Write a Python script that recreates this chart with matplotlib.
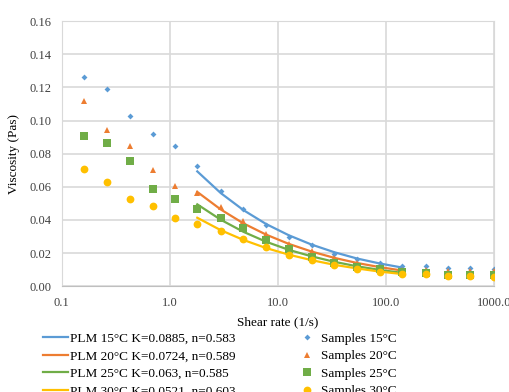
import matplotlib
matplotlib.use("Agg")
import matplotlib.pyplot as plt
from matplotlib.ticker import FixedLocator, FuncFormatter

plt.rcParams["font.family"] = ["Liberation Serif", "DejaVu Serif"]

# measured shear rates (1/s)
shear = [0.161, 0.261, 0.429, 0.696, 1.12, 1.80, 2.97, 4.82, 7.82, 12.7,
         20.6, 33.4, 54.2, 88.0, 143.0, 234.0, 376.0, 605.0, 1000.0]

# measured viscosities (Pas)
visc_15 = [0.126, 0.119, 0.103, 0.092, 0.0845, 0.0725, 0.0574, 0.0467, 0.0370, 0.0298,
           0.0248, 0.0197, 0.0165, 0.0137, 0.0123, 0.0119, 0.0109, 0.0109, 0.0105]
visc_20 = [0.112, 0.0944, 0.0845, 0.0704, 0.0606, 0.0564, 0.0479, 0.0392, 0.0312, 0.0256,
           0.0210, 0.0172, 0.0141, 0.0116, 0.0100, 0.0095, 0.0090, 0.0090, 0.0089]
visc_25 = [0.0908, 0.0865, 0.0753, 0.0588, 0.0527, 0.0467, 0.0409, 0.0350, 0.0278, 0.0225,
           0.0177, 0.0137, 0.0117, 0.0101, 0.0087, 0.0080, 0.0066, 0.0066, 0.0070]
visc_30 = [0.0710, 0.0626, 0.0527, 0.0483, 0.0409, 0.0376, 0.0334, 0.0284, 0.0237, 0.0189,
           0.0157, 0.0127, 0.0101, 0.0085, 0.0072, 0.0072, 0.0060, 0.0062, 0.0056]

# power-law model curves
fit_shear = [1.80, 2.97, 4.82, 7.82, 12.7, 20.6, 33.4, 54.2, 88.0, 143.0]
fit_15 = [0.0693, 0.0562, 0.0459, 0.0375, 0.0307, 0.0251, 0.0205, 0.0167, 0.0137, 0.0112]
fit_20 = [0.0569, 0.0463, 0.0379, 0.0311, 0.0255, 0.0209, 0.0171, 0.0140, 0.0115, 0.0094]
fit_25 = [0.0494, 0.0401, 0.0328, 0.0268, 0.0219, 0.0180, 0.0147, 0.0120, 0.0098, 0.0080]
fit_30 = [0.0413, 0.0338, 0.0279, 0.0230, 0.0190, 0.0157, 0.0129, 0.0107, 0.0088, 0.0073]

fit_labels = ["PLM 15°C K=0.0885, n=0.583", "PLM 20°C K=0.0724, n=0.589",
              "PLM 25°C K=0.063, n=0.585", "PLM 30°C K=0.0521, n=0.603"]
sample_labels = ["Samples 15°C", "Samples 20°C", "Samples 25°C", "Samples 30°C"]

colors = ["#5B9BD5", "#ED7D31", "#70AD47", "#FFC000"]
markers = ["D", "^", "s", "o"]
msizes = [3.0, 4.5, 5.3, 5.6]

fig = plt.figure(figsize=(5.10, 3.92), dpi=100)
ax = fig.add_axes([0.121, 0.270, 0.847, 0.676])

fits = [fit_15, fit_20, fit_25, fit_30]
samples = [visc_15, visc_20, visc_25, visc_30]

line_handles = []
for fit, c, lab in zip(fits, colors, fit_labels):
    h, = ax.plot(fit_shear, fit, color=c, lw=1.6, label=lab, zorder=3)
    line_handles.append(h)

pt_handles = []
for vals, c, m, ms, lab in zip(samples, colors, markers, msizes, sample_labels):
    h, = ax.plot(shear, vals, ls="none", marker=m, ms=ms, color=c,
                 markeredgewidth=0, label=lab, zorder=4)
    pt_handles.append(h)

ax.set_xscale("log")
ax.set_xlim(0.1, 1000)
ax.set_ylim(0, 0.16)
ax.xaxis.set_major_locator(FixedLocator([0.1, 1, 10, 100, 1000]))
ax.xaxis.set_minor_locator(FixedLocator([]))
ax.xaxis.set_major_formatter(FuncFormatter(lambda v, p: f"{v:.1f}"))
ax.set_yticks([0.0, 0.02, 0.04, 0.06, 0.08, 0.10, 0.12, 0.14, 0.16])
ax.yaxis.set_major_formatter(FuncFormatter(lambda v, p: f"{v:.2f}"))
ax.tick_params(length=0, labelsize=9, colors="#404040")
ax.tick_params(axis="x", pad=8)
ax.tick_params(axis="y", pad=7)
ax.grid(True, color="#d9d9d9", lw=1.2)
ax.set_axisbelow(True)
for s in ax.spines.values():
    s.set_color("#d9d9d9")
ax.spines["bottom"].set_color("#bfbfbf")

ax.set_xlabel("Shear rate (1/s)", fontsize=9.5, labelpad=5)
ax.set_ylabel("Viscosity (Pas)", fontsize=9.5, labelpad=7)

fig.legend(line_handles + pt_handles, fit_labels + sample_labels,
           ncol=2, loc="upper left", bbox_to_anchor=(0.073, 0.165),
           frameon=False, fontsize=9.5, handlelength=1.9, handletextpad=0.15,
           columnspacing=4.5, labelspacing=0.4, borderaxespad=0)

fig.savefig("out.png", dpi=100)
